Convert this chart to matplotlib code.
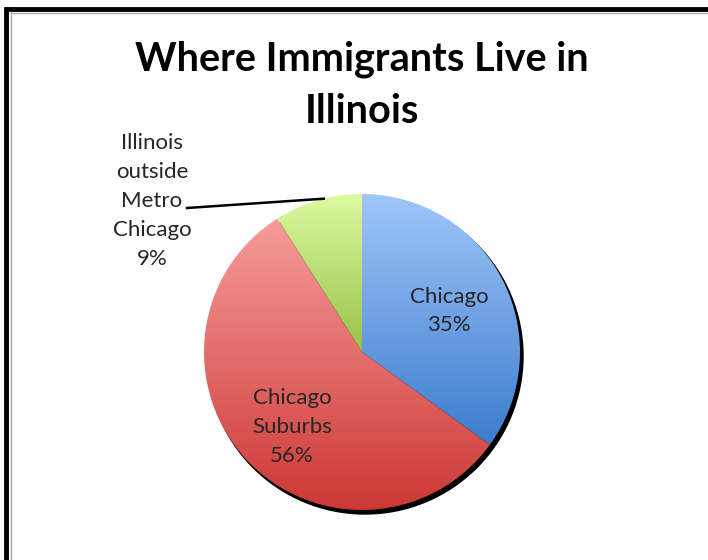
import numpy as np
import matplotlib
matplotlib.use('Agg')
from matplotlib import pyplot as plt
from matplotlib.colors import LinearSegmentedColormap

# data
labels = ['Chicago', 'Chicago\nSuburbs', 'Illinois\noutside\nMetro\nChicago']
shares = [35, 56, 9]
title = 'Where Immigrants Live in\nIllinois'

# per-slice gradient (top colour, bottom colour)
grads = [('#a0c6fa', '#3c7ccd'), ('#f69c9a', '#cd3835'), ('#dcfaa0', '#98c248')]

W, H = 708, 560
fig = plt.figure(figsize=(W / 100, H / 100), dpi=100)
ax = fig.add_axes([0, 0, 1, 1])

cx, cy, r = 362, 560 - 352, 158

# shadow behind the pie
shadow = plt.Circle((cx + 3, cy - 4), r, color='black', zorder=1)
ax.add_artist(shadow)

wedges, _ = ax.pie(shares, center=(cx, cy), radius=r, startangle=90,
                   counterclock=False, frame=True,
                   wedgeprops=dict(facecolor='none', edgecolor='none'))

for w, (top, bot) in zip(wedges, grads):
    w.set_zorder(3)
    bb = w.get_path().get_extents()
    cmap = LinearSegmentedColormap.from_list('g', [top, bot])
    grad = np.linspace(0, 1, 256).reshape(-1, 1)
    im = ax.imshow(grad, cmap=cmap, aspect='auto', origin='upper',
                   extent=(bb.x0, bb.x1, bb.y0, bb.y1), zorder=2,
                   interpolation='bilinear')
    im.set_clip_path(w)

ax.set_xlim(0, W)
ax.set_ylim(0, H)
ax.set_aspect('equal')
ax.axis('off')

font = 'Lato'
ax.text(cx, 560 - 85, title, ha='center', va='center', fontsize=28.5,
        fontweight='bold', family=font, linespacing=1.5, zorder=5)

lab_kw = dict(ha='center', va='center', fontsize=16, family=font,
              color='#262626', linespacing=1.55, zorder=5)
# inside labels
ax.text(449, 560 - 311, f'{labels[0]}\n{shares[0]}%', **lab_kw)
ax.text(292, 560 - 427, f'{labels[1]}\n{shares[1]}%', **lab_kw)
# outside label with leader line
ax.text(152, 560 - 201, f'{labels[2]}\n{shares[2]}%', **lab_kw)
ax.plot([187, cx + r * np.cos(np.deg2rad(104))], [560 - 208, cy + r * np.sin(np.deg2rad(104))],
        color='black', lw=1.8, zorder=6)

# frame (cut off at right and bottom)
ax.plot([6, 6], [0, 560 - 7], color='black', lw=3.5, solid_capstyle='butt', clip_on=False)
ax.plot([4, W], [560 - 9, 560 - 9], color='black', lw=3.5, solid_capstyle='butt', clip_on=False)
ax.plot([10.5, 10.5], [0, 560 - 12], color='#aaaaaa', lw=1, clip_on=False)
ax.plot([10.5, W], [560 - 12.5, 560 - 12.5], color='#aaaaaa', lw=1, clip_on=False)

fig.savefig('out.png', dpi=100)
